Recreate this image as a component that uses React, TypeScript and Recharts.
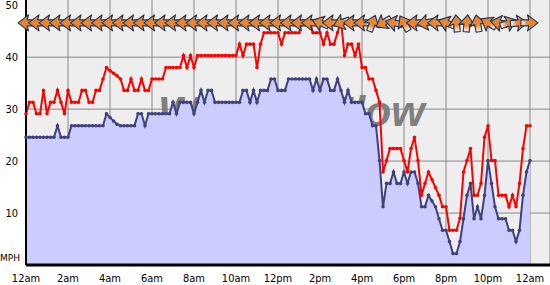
import React from 'react';
import { ComposedChart, Area, Line, Scatter, XAxis, YAxis, CartesianGrid, Customized } from 'recharts';

const X_LABELS = ['12am', '2am', '4am', '6am', '8am', '10am', '12pm', '2pm', '4pm', '6pm', '8pm', '10pm', '12am'];
const X_TICKS = [0, 12, 24, 36, 48, 60, 72, 84, 96, 108, 120, 132, 144];
const Y_TICKS = [10, 20, 30, 40, 50];
const GRID_Y = [10, 20, 30, 40];

// gusts (mph), one reading every 10 minutes
const GUST = [
  29.1, 31.3, 31.3, 29.1, 29.1, 33.6, 29.1, 31.3, 31.3, 33.6,
  31.3, 29.1, 33.6, 31.3, 31.3, 31.3, 33.6, 33.6, 31.3, 31.3,
  33.6, 33.6, 35.8, 38.0, 37.4, 36.9, 36.4, 35.8, 33.6, 33.6,
  35.8, 33.6, 33.6, 35.8, 33.6, 33.6, 35.8, 35.8, 35.8, 35.8,
  38.0, 38.0, 38.0, 38.0, 38.0, 40.3, 38.0, 40.3, 38.0, 40.3,
  40.3, 40.3, 40.3, 40.3, 40.3, 40.3, 40.3, 40.3, 40.3, 40.3,
  40.3, 42.5, 40.3, 42.5, 42.5, 42.5, 38.0, 42.5, 44.7, 44.7,
  44.7, 44.7, 44.7, 42.5, 44.7, 44.7, 44.7, 44.7, 44.7, 47.0,
  47.0, 47.0, 44.7, 44.7, 44.7, 42.5, 44.7, 42.5, 42.5, 44.7,
  47.0, 40.3, 42.5, 42.5, 40.3, 42.5, 38.0, 38.0, 35.8, 35.8,
  33.6, 31.3, 17.9, 20.1, 22.4, 22.4, 22.4, 22.4, 20.1, 17.9,
  22.4, 24.6, 20.1, 13.4, 15.7, 17.9, 16.4, 14.9, 13.4, 11.2,
  11.2, 6.7, 6.7, 6.7, 9.0, 17.9, 20.1, 22.4, 13.4, 13.4,
  15.7, 24.6, 26.8, 20.1, 20.1, 13.4, 13.4, 13.4, 11.2, 13.4,
  11.2, 15.7, 22.4, 26.8, 26.8,
];

// average wind (mph)
const AVG = [
  24.6, 24.6, 24.6, 24.6, 24.6, 24.6, 24.6, 24.6, 24.6, 26.8,
  24.6, 24.6, 24.6, 26.8, 26.8, 26.8, 26.8, 26.8, 26.8, 26.8,
  26.8, 26.8, 26.8, 29.1, 28.4, 27.7, 27.1, 26.8, 26.8, 26.8,
  26.8, 26.8, 29.1, 29.1, 26.8, 29.1, 29.1, 29.1, 29.1, 29.1,
  29.1, 29.1, 31.3, 29.1, 31.3, 31.3, 31.3, 31.3, 29.1, 31.3,
  33.6, 31.3, 33.6, 33.6, 31.3, 31.3, 31.3, 31.3, 31.3, 31.3,
  31.3, 31.3, 33.6, 33.6, 31.3, 33.6, 31.3, 33.6, 33.6, 33.6,
  35.8, 35.8, 33.6, 33.6, 33.6, 35.8, 35.8, 35.8, 35.8, 35.8,
  35.8, 35.8, 33.6, 35.8, 33.6, 35.8, 35.8, 33.6, 33.6, 35.8,
  33.6, 31.3, 33.6, 31.3, 31.3, 31.3, 31.3, 29.1, 29.1, 26.8,
  26.8, 20.1, 11.2, 15.7, 15.7, 17.9, 15.7, 15.7, 17.9, 15.7,
  17.9, 17.9, 15.7, 11.2, 11.2, 13.4, 12.3, 11.2, 8.9, 6.7,
  6.7, 4.5, 2.2, 2.2, 4.5, 8.9, 13.4, 15.7, 8.9, 11.2,
  8.9, 13.4, 20.1, 15.7, 11.2, 8.9, 8.9, 8.9, 6.7, 6.7,
  4.5, 6.7, 13.4, 17.9, 20.1,
];

// wind direction (degrees, from) every 30 minutes
const DIR = [
  90, 90, 90, 90, 90, 90, 90, 90, 90, 90,
  90, 90, 90, 90, 90, 90, 90, 90, 90, 90,
  90, 90, 90, 90, 90, 90, 90, 90, 110, 90,
  70, 90, 90, 200, 60, 100, 150, 90, 80, 90,
  110, 175, 185, 170, 120, 100, 250, 265, 270,
];
const DIR_STEP = 3;
const ARROW_ROW = 46.6;

const data = GUST.map((g, i) => ({ t: i, gust: g, avg: AVG[i] }));
const arrowData = DIR.map((d, k) => ({ t: k * DIR_STEP, row: ARROW_ROW, dir: d }));

const FONT = "'DejaVu Sans Condensed', 'DejaVu Sans', sans-serif";

const Arrow = (props: any) => {
  const { cx, cy, payload } = props;
  if (cx == null || cy == null) return null;
  const rot = payload.dir - 90;
  return (
    <g transform={`translate(${cx},${cy}) rotate(${rot})`}>
      <path
        d="M-8,0 L2.5,-8 L1.2,-3 L9,-3 L9,3 L1.2,3 L2.5,8 Z"
        fill="url(#arrowGrad)"
        stroke="#1b3352"
        strokeWidth={1.1}
        strokeLinejoin="round"
      />
    </g>
  );
};

const Decor = () => (
  <g>
    <defs>
      <linearGradient id="arrowGrad" x1="0" y1="0" x2="1" y2="0">
        <stop offset="0" stopColor="#e5822f" />
        <stop offset="0.62" stopColor="#e8873a" />
        <stop offset="1" stopColor="#ffffff" />
      </linearGradient>
    </defs>
    <text
      x={158}
      y={126}
      fontFamily="'Liberation Sans', Arial, sans-serif"
      fontWeight="bold"
      fontStyle="italic"
      fontSize={43}
      fill="#7f7f7f"
    >
      WeatherFlow
    </text>
    <text x={0} y={261} fontFamily="'DejaVu Sans', sans-serif" fontSize={9} fill="#000">
      MPH
    </text>
  </g>
);

export default function App() {
  return (
    <div style={{ position: 'absolute', left: 0, top: 0, width: 550, height: 285, background: '#fff' }}>
      <ComposedChart width={550} height={285} data={data} margin={{ top: 0, right: 0, bottom: 0, left: 0 }}>
        <CartesianGrid
          fill="#eeeeee"
          fillOpacity={1}
          stroke="#888888"
          strokeWidth={1}
          horizontalValues={GRID_Y}
        />
        <XAxis
          dataKey="t"
          type="number"
          domain={[0, 149.714]}
          ticks={X_TICKS}
          interval={0}
          tickFormatter={(v: number) => X_LABELS[X_TICKS.indexOf(v)] ?? ''}
          height={20}
          tickLine={false}
          tickSize={0}
          tickMargin={9}
          axisLine={{ stroke: '#000', strokeWidth: 3 }}
          tick={{ fill: '#000', fontSize: 11, fontFamily: FONT, fontStretch: 'condensed' } as any}
        />
        <YAxis
          type="number"
          domain={[0, 51]}
          ticks={Y_TICKS}
          interval={0}
          width={26}
          tickLine={false}
          tickSize={0}
          tickMargin={8}
          axisLine={{ stroke: '#000', strokeWidth: 2 }}
          tick={{ fill: '#000', fontSize: 11, fontFamily: FONT, fontStretch: 'condensed' } as any}
        />
        <Customized component={Decor} />
        <Area
          dataKey="avg"
          type="linear"
          fill="#ccccff"
          fillOpacity={1}
          stroke="none"
          isAnimationActive={false}
          activeDot={false}
        />
        <Line
          dataKey="avg"
          type="linear"
          stroke="#40407f"
          strokeWidth={2}
          dot={{ r: 1.8, fill: '#40407f', stroke: 'none' }}
          activeDot={false}
          isAnimationActive={false}
        />
        <Line
          dataKey="gust"
          type="linear"
          stroke="#ff0000"
          strokeWidth={2}
          dot={{ r: 1.8, fill: '#ff0000', stroke: 'none' }}
          activeDot={false}
          isAnimationActive={false}
        />
        <Scatter data={arrowData} dataKey="row" shape={Arrow} isAnimationActive={false} />
      </ComposedChart>
    </div>
  );
}
